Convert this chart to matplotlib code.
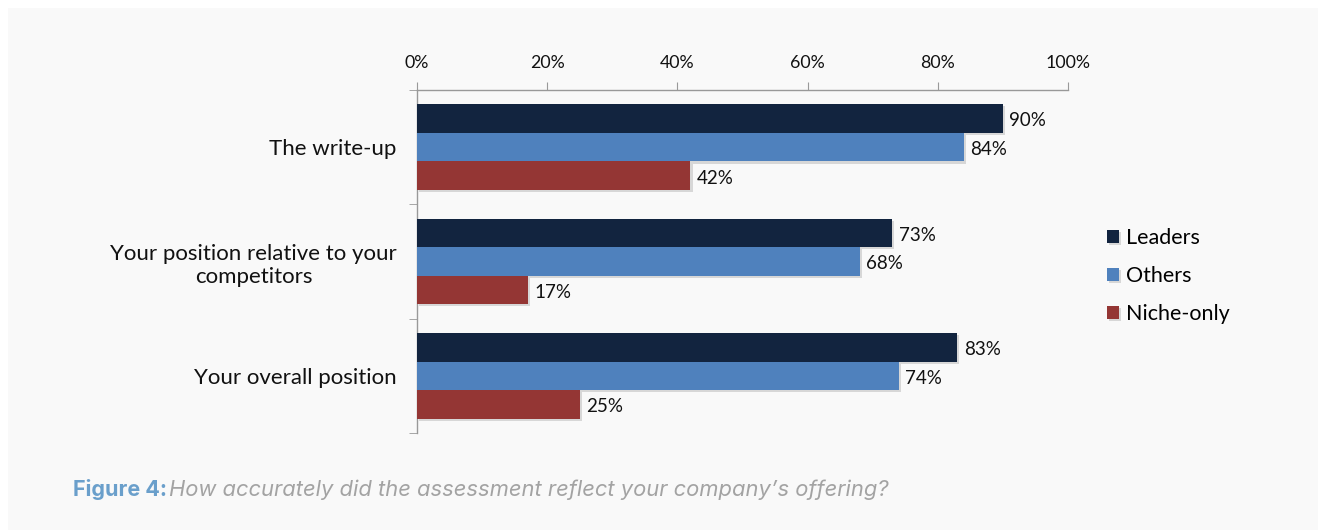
import matplotlib.pyplot as plt
import matplotlib.patheffects as pe
from matplotlib.patches import Rectangle
import numpy as np

# Survey results: share of respondents saying the assessment reflected them accurately
categories = ["The write-up", "Your position relative to your\ncompetitors", "Your overall position"]
series_names = ["Leaders", "Others", "Niche-only"]
leaders = [90, 73, 83]
others = [84, 68, 74]
niche_only = [42, 17, 25]
colors = ["#12243f", "#4f81bd", "#943634"]
x_ticks = [0, 20, 40, 60, 80, 100]

plt.rcParams['font.family'] = ['Lato', 'DejaVu Sans']

fig = plt.figure(figsize=(13.23, 5.32), dpi=100, facecolor="white")
fig.patches.append(Rectangle((8 / 1323, 2 / 532), 1310 / 1323, 522 / 532,
                             transform=fig.transFigure, facecolor="#f9f9f9",
                             edgecolor="none", zorder=-5))

ax = fig.add_axes([417 / 1323, 1 - 433 / 532, 651 / 1323, 343 / 532])
ax.set_facecolor("none")
ax.set_zorder(2)

y = np.arange(len(categories))
h = 0.25
shadow = [pe.SimplePatchShadow(offset=(1.5, -1.5), shadow_rgbFace="#999999", alpha=0.35), pe.Normal()]
for i, (vals, name, col) in enumerate(zip([leaders, others, niche_only], series_names, colors)):
    bars = ax.barh(y + (i - 1) * h, vals, height=h, color=col, label=name, zorder=3,
                   path_effects=shadow)
    for b, v in zip(bars, vals):
        ax.text(v + 1.0, b.get_y() + b.get_height() * 0.58, f"{v}%", va="center", ha="left",
                fontsize=13.5, color="#111111", zorder=4)

ax.set_xlim(0, 100)
ax.set_ylim(len(categories) - 0.5, -0.5)

ax.xaxis.tick_top()
ax.set_xticks(x_ticks)
ax.set_xticklabels([f"{t}%" for t in x_ticks], fontsize=12.8, color="#111111")
ax.tick_params(axis="x", length=6, color="#999999", pad=8)

ax.set_yticks(y)
ax.set_yticklabels(categories, fontsize=16, color="#111111", ha="right", multialignment="center")
ax.tick_params(axis="y", length=0, pad=14.5)
ax.set_yticks(np.arange(len(categories) + 1) - 0.5, minor=True)
ax.tick_params(axis="y", which="minor", length=6, color="#999999")

for s in ["right", "bottom"]:
    ax.spines[s].set_visible(False)
for s in ["top", "left"]:
    ax.spines[s].set_color("#999999")
    ax.spines[s].set_linewidth(1)

ax.legend(loc="center left", bbox_to_anchor=(1088 / 1323, 1 - 276 / 532),
          bbox_transform=fig.transFigure, frameon=False, fontsize=15.5,
          handlelength=0.55, handleheight=0.55, handletextpad=0.3, labelspacing=0.85)

fig.text(73 / 1323, 1 - 490 / 532, "Figure 4:", fontsize=15.5, fontweight="bold",
         color="#6a9fcb", va="center", family=["Inter", "DejaVu Sans"])
fig.text(169 / 1323, 1 - 490 / 532, "How accurately did the assessment reflect your company\u2019s offering?",
         fontsize=15.8, style="italic", color="#a3a3a3", va="center", family=["Inter", "DejaVu Sans"])

fig.savefig("out.png", dpi=100, facecolor=fig.get_facecolor())
